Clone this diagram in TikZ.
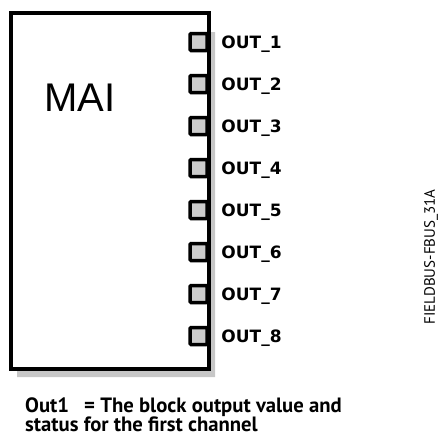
\documentclass[tikz,border=0pt]{standalone}
\usepackage{fontspec}
\setmainfont{DejaVu Sans}
\newfontfamily\ptsans{PT Sans}
\newfontfamily\arialfont{Liberation Sans}
\usetikzlibrary{positioning}
\tikzstyle{block} = [rectangle, draw=black, line width=4pt, fill=white, inner sep=0pt, outer sep=0pt, minimum width=197.5pt, minimum height=356.5pt]
\tikzstyle{port} = [rectangle, rounded corners=1pt, draw=black, line width=3.5pt, fill=black!20, inner sep=0pt, minimum size=17pt]
\tikzstyle{portlabel} = [font=\fontsize{17}{17}\selectfont\bfseries, inner sep=0pt, text height=12.5pt, text depth=0pt]
\tikzstyle{shadow} = [fill=black!22]
\tikzstyle{notetext} = [font=\ptsans\bfseries\fontsize{20.7}{19}\selectfont, align=left, inner sep=0pt, anchor=base west]

\begin{document}
\begin{tikzpicture}[x=1pt, y=-1pt, node distance=42pt]
    \useasboundingbox (0,0) rectangle (442,448);

    \node (mai) [block] at (109.75,190.75) {};
    \fill [shadow] ([shift={(2,19.5)}]mai.north east) -- ([shift={(6.5,19.5)}]mai.north east)
        -- ([shift={(6.5,8)}]mai.south east) -- ([shift={(6,8)}]mai.south west)
        -- ([shift={(6,2)}]mai.south west) -- ([shift={(2,2)}]mai.south east) -- cycle;
    \node (mai) [block] at (109.75,190.75) {};
    \node (title) [font=\arialfont\fontsize{40}{40}\selectfont, inner sep=0pt, anchor=base west] at (44,111) {MAI};

    \node (port1) [port] at (198.5,42) {};
    \node (port2) [port, below of=port1] {};
    \node (port3) [port, below of=port2] {};
    \node (port4) [port, below of=port3] {};
    \node (port5) [port, below of=port4] {};
    \node (port6) [port, below of=port5] {};
    \node (port7) [port, below of=port6] {};
    \node (port8) [port, below of=port7] {};

    \node (out1) [portlabel, right=12.5pt of port1] {OUT\_1};
    \node (out2) [portlabel, right=12.5pt of port2] {OUT\_2};
    \node (out3) [portlabel, right=12.5pt of port3] {OUT\_3};
    \node (out4) [portlabel, right=12.5pt of port4] {OUT\_4};
    \node (out5) [portlabel, right=12.5pt of port5] {OUT\_5};
    \node (out6) [portlabel, right=12.5pt of port6] {OUT\_6};
    \node (out7) [portlabel, right=12.5pt of port7] {OUT\_7};
    \node (out8) [portlabel, right=12.5pt of port8] {OUT\_8};

    \node (figid) [font=\ptsans\fontsize{15}{15}\selectfont, rotate=90] at (431,257) {FIELDBUS-FBUS\_31A};

    \node (note) [notetext] at (25,431) {Out1\hspace{15pt}= The block output value and\\status for the first channel};
\end{tikzpicture}
\end{document}
